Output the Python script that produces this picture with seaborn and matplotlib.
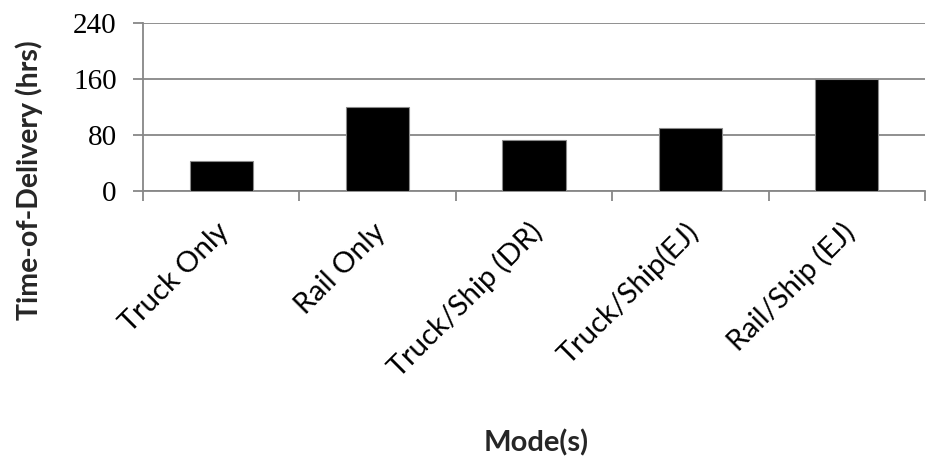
import matplotlib
matplotlib.use("Agg")
import matplotlib.pyplot as plt
from matplotlib.transforms import ScaledTranslation
import seaborn as sns
import pandas as pd

categories = ["Truck Only", "Rail Only", "Truck/Ship (DR)", "Truck/Ship(EJ)", "Rail/Ship (EJ)"]
hours = [42, 120, 73, 90, 160]
y_ticks = [0, 80, 160, 240]

sns.set_style("white")
plt.rcParams["font.family"] = ["Lato", "DejaVu Sans"]

df = pd.DataFrame({"Mode": categories, "Hours": hours})

W, H = 928, 459
fig = plt.figure(figsize=(W / 100, H / 100), dpi=100)
ax = fig.add_axes([143 / W, 1 - 190.5 / H, (925 - 143) / W, (190.5 - 23) / H])

grid_c = "#878787"
sns.barplot(data=df, x="Mode", y="Hours", color="black", width=0.405,
            edgecolor="#8a8a8a", linewidth=0.8, saturation=1, ax=ax, zorder=3)

ax.set_xlim(-0.5, len(categories) - 0.5)
ax.set_ylim(0, 240)
ax.set_yticks(y_ticks)
ax.set_yticklabels([str(v) for v in y_ticks], family="Liberation Serif", fontsize=21)
ax.yaxis.grid(True, color=grid_c, linewidth=1.3, zorder=0)
ax.set_axisbelow(True)

for s in ["top", "right"]:
    ax.spines[s].set_visible(False)
for s in ["left", "bottom"]:
    ax.spines[s].set_color(grid_c)
    ax.spines[s].set_linewidth(1.3)

ax.tick_params(axis="y", which="major", direction="out", length=7, width=1.3,
               color=grid_c, pad=12, labelcolor="black", left=True)

# category labels at bar centres, tick marks at category boundaries
ax.set_xticks(range(len(categories)))
ax.set_xticklabels(categories, rotation=45, ha="right", va="center",
                   rotation_mode="anchor", fontsize=21)
ax.tick_params(axis="x", which="major", length=0, pad=27, labelcolor="black")
ax.set_xticks([i - 0.5 for i in range(len(categories) + 1)], minor=True)
ax.tick_params(axis="x", which="minor", direction="out", length=7, width=1.3,
               color=grid_c, bottom=True)
shift = ScaledTranslation(4 / 100, 0, fig.dpi_scale_trans)
for lab in ax.get_xticklabels():
    lab.set_transform(lab.get_transform() + shift)

ax.set_xlabel("")
ax.set_ylabel("")
fig.text(536 / W, 1 - 443 / H, "Mode(s)", ha="center", va="center",
         fontsize=21, fontweight="bold")
fig.text(29 / W, 1 - 180 / H, "Time-of-Delivery (hrs)", ha="center", va="center",
         rotation=90, fontsize=20.5, fontweight="bold")

fig.savefig("out.png", dpi=100, facecolor="white")
